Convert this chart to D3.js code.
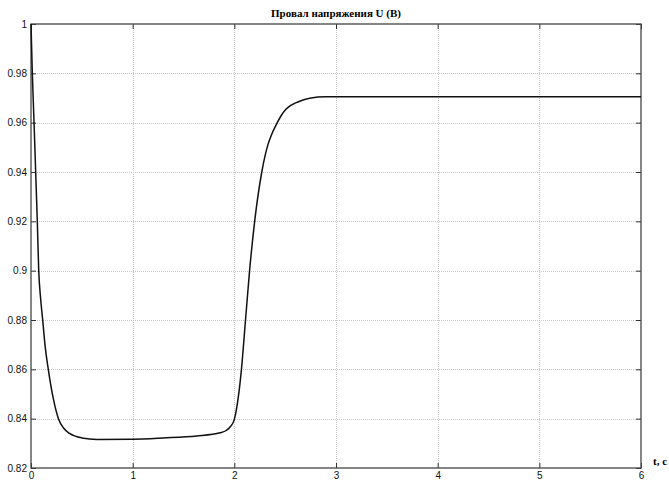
<!DOCTYPE html>
<html>
<head>
<meta charset="utf-8">
<script src="https://cdn.jsdelivr.net/npm/d3@7"></script>
<style>
  body { margin: 0; background: #fff; }
  .grid line { stroke: #c8c8c8; stroke-dasharray: 1,1; }
  .tick text { font-family: "Liberation Sans", Arial, sans-serif; font-size: 10px; fill: #111; }
</style>
</head>
<body>
<div class="container"></div>
<script>
// time, s
var tValues = [0, 0.013, 0.03, 0.046, 0.062, 0.076, 0.094, 0.115, 0.14, 0.17, 0.22, 0.27, 0.32, 0.38, 0.5, 0.65,
	1.0, 1.3, 1.63, 1.86, 1.92, 1.96, 2.0, 2.04, 2.07, 2.11, 2.15, 2.2, 2.27, 2.33, 2.37, 2.41, 2.46, 2.51, 2.63, 2.74, 2.9, 3.5, 6];
// voltage U, p.u.
var uValues = [1, 0.98, 0.96, 0.94, 0.92, 0.90, 0.889, 0.88, 0.869, 0.86, 0.848, 0.84, 0.8362, 0.834, 0.8322, 0.8316,
	0.8317, 0.8322, 0.833, 0.8343, 0.8352, 0.8367, 0.8397, 0.849, 0.86, 0.88, 0.90, 0.92, 0.94, 0.951, 0.9555, 0.959, 0.9628, 0.9655, 0.9685, 0.9699, 0.9705, 0.9705, 0.9705];

var xTicks = [0, 1, 2, 3, 4, 5, 6];
var yTicks = [0.82, 0.84, 0.86, 0.88, 0.9, 0.92, 0.94, 0.96, 0.98, 1];

var data = tValues.map(function(t, i) {
	return { t: t, u: uValues[i] };
});

var mLeft = 31, mRight = 641, mTop = 24, mBottom = 468;

var svg = d3
	.select('.container')
	.append('svg')
	.attr('width', 669)
	.attr('height', 480);

var x = d3.scaleLinear().domain([0, 6]).range([mLeft, mRight]);
var y = d3.scaleLinear().domain([0.82, 1]).range([mBottom, mTop]);

// grid
var grid = svg.append('g').attr('class', 'grid');
grid.selectAll('.gx')
	.data(xTicks.slice(1, -1))
	.enter()
	.append('line')
	.attr('x1', function(d) { return Math.round(x(d)) + 0.5; })
	.attr('x2', function(d) { return Math.round(x(d)) + 0.5; })
	.attr('y1', mTop)
	.attr('y2', mBottom);
grid.selectAll('.gy')
	.data(yTicks.slice(1, -1))
	.enter()
	.append('line')
	.attr('x1', mLeft)
	.attr('x2', mRight)
	.attr('y1', function(d) { return Math.round(y(d)) + 0.5; })
	.attr('y2', function(d) { return Math.round(y(d)) + 0.5; });

// axes with inner ticks
var fmt = function(d) { return d3.format('')(+d.toFixed(2)); };

svg.append('g')
	.attr('transform', 'translate(0,' + mBottom + ')')
	.call(d3.axisBottom(x).tickValues(xTicks).tickSizeInner(-5).tickSizeOuter(0).tickPadding(4).tickFormat(fmt))
	.call(function(g) { g.select('.domain').remove(); });

svg.append('g')
	.attr('transform', 'translate(' + mLeft + ',0)')
	.call(d3.axisLeft(y).tickValues(yTicks).tickSizeInner(-5).tickSizeOuter(0).tickPadding(4).tickFormat(fmt))
	.call(function(g) { g.select('.domain').remove(); });

svg.append('g')
	.attr('transform', 'translate(0,' + mTop + ')')
	.call(d3.axisTop(x).tickValues(xTicks).tickSizeInner(-5).tickSizeOuter(0).tickFormat(''))
	.call(function(g) { g.select('.domain').remove(); });

svg.append('g')
	.attr('transform', 'translate(' + mRight + ',0)')
	.call(d3.axisRight(y).tickValues(yTicks).tickSizeInner(-5).tickSizeOuter(0).tickFormat(''))
	.call(function(g) { g.select('.domain').remove(); });

svg.selectAll('.tick line').attr('stroke', '#333');

// frame
svg.append('rect')
	.attr('x', mLeft)
	.attr('y', mTop)
	.attr('width', mRight - mLeft)
	.attr('height', mBottom - mTop)
	.attr('fill', 'none')
	.attr('stroke', '#444')
	.attr('stroke-width', 1.3);

// curve
var line = d3.line()
	.x(function(d) { return x(d.t); })
	.y(function(d) { return y(d.u); })
	.curve(d3.curveMonotoneX);

svg.append('path')
	.datum(data)
	.attr('d', line)
	.attr('fill', 'none')
	.attr('stroke', '#111')
	.attr('stroke-width', 1.5);

// labels
svg.append('text')
	.text('Провал напряжения U (B)')
	.attr('x', 336)
	.attr('y', 17)
	.attr('text-anchor', 'middle')
	.style('font-family', '"Liberation Serif", "Times New Roman", serif')
	.style('font-weight', 'bold')
	.style('font-size', '11px');

svg.append('text')
	.text('t, c')
	.attr('x', 653)
	.attr('y', 465)
	.style('font-family', '"Liberation Serif", "Times New Roman", serif')
	.style('font-weight', 'bold')
	.style('font-size', '11px');
</script>
</body>
</html>
